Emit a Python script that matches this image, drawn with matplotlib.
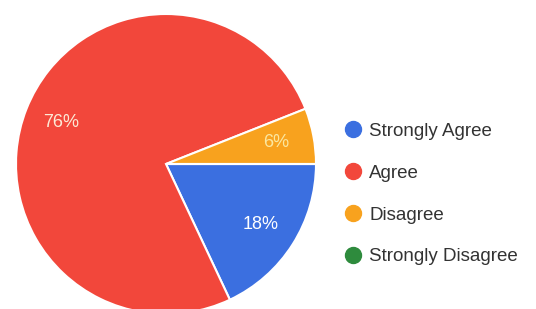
import matplotlib.pyplot as plt
from matplotlib.lines import Line2D

categories = ['Strongly Agree', 'Agree', 'Disagree', 'Strongly Disagree']
counts = [9, 38, 3, 0]
colors = ['#3b6fe0', '#f2473b', '#f8a21e', '#2e8b3d']
label_colors = ['white', '#fde9d6', '#fbe7a0', 'white']

W, H = 536, 309
fig = plt.figure(figsize=(W / 100, H / 100), dpi=100)

# pie centre ~ (166, 164) px from top-left, radius ~150 px
cx, cy, r = 166, 164, 150
ax = fig.add_axes([(cx - r) / W, (H - cy - r) / H, 2 * r / W, 2 * r / H])

def pct(p):
    return '%d%%' % round(p) if p > 0 else ''

wedges, texts, autotexts = ax.pie(
    counts, colors=colors, startangle=0, counterclock=False,
    autopct=pct, pctdistance=0.75,
    wedgeprops=dict(edgecolor='white', linewidth=1.5),
    textprops=dict(fontsize=13, family=['Liberation Sans', 'DejaVu Sans']))
for t, c in zip(autotexts, label_colors):
    t.set_color(c)
ax.set_xlim(-1, 1)
ax.set_ylim(-1, 1)
ax.set_aspect('equal')

handles = [Line2D([], [], marker='o', linestyle='none', markersize=11.5,
                  markerfacecolor=c, markeredgecolor=c) for c in colors]
fig.legend(handles, categories, loc='center left',
           bbox_to_anchor=(331 / W, 1 - 194 / H), frameon=False,
           borderpad=0, handletextpad=0.25, labelspacing=1.32, handlelength=1.3,
           prop=dict(family=['Liberation Sans', 'DejaVu Sans'], size=13.5),
           labelcolor='#333333')

fig.savefig('out.png', dpi=100)
